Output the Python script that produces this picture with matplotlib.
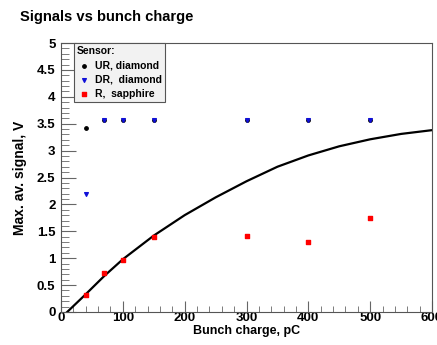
import numpy as np
import matplotlib.pyplot as plt
from matplotlib.ticker import MultipleLocator

plt.rcParams['font.family'] = ['Liberation Sans', 'DejaVu Sans']
plt.rcParams['font.weight'] = 'bold'

# measured points
ur_x = [40, 70, 100, 150, 300, 400, 500]
ur_y = [3.42, 3.57, 3.57, 3.57, 3.57, 3.57, 3.57]
dr_x = [40, 70, 100, 150, 300, 400, 500]
dr_y = [2.2, 3.57, 3.57, 3.57, 3.57, 3.57, 3.57]
r_x = [40, 70, 100, 150, 300, 400, 500]
r_y = [0.32, 0.72, 0.97, 1.4, 1.41, 1.31, 1.75]

# black model curve
curve_x = [10, 40, 70, 100, 150, 200, 250, 300, 350, 400, 450, 500, 550, 600]
curve_y = [0.0, 0.33, 0.67, 0.98, 1.42, 1.80, 2.13, 2.43, 2.70, 2.91, 3.08, 3.21, 3.31, 3.38]

fig = plt.figure(figsize=(4.37, 3.45), dpi=100)
ax = fig.add_axes([61/437, 1 - 312/345, 371/437, 269/345])

ax.plot(curve_x, curve_y, color='black', lw=1.6, zorder=2)
ax.scatter(ur_x, ur_y, s=6, marker='o', color='black', label='UR, diamond', zorder=3)
ax.scatter(dr_x, dr_y, s=7, marker='v', color='#1010d8', label='DR,  diamond', zorder=4)
ax.scatter(r_x, r_y, s=6, marker='s', color='#ff0000', label='R,  sapphire', zorder=5)

ax.set_xlim(0, 600)
ax.set_ylim(0, 5)
ax.xaxis.set_major_locator(MultipleLocator(100))
ax.xaxis.set_minor_locator(MultipleLocator(20))
ax.yaxis.set_major_locator(MultipleLocator(0.5))
ax.yaxis.set_minor_locator(MultipleLocator(0.1))
ax.yaxis.set_major_formatter(plt.FuncFormatter(lambda v, p: f'{v:g}'))
ax.tick_params(which='both', direction='in', top=False, right=False,
               color='#666666', labelsize=9.5)
ax.tick_params(axis='x', which='major', length=8, pad=0)
ax.tick_params(axis='x', which='minor', length=4)
ax.tick_params(axis='y', which='major', length=11, pad=4)
ax.tick_params(axis='y', which='minor', length=6)
for sp in ax.spines.values():
    sp.set_color('#555555')

ax.set_xlabel('Bunch charge, pC', fontsize=9, fontweight='bold', labelpad=1)
ax.set_ylabel('Max. av. signal, V', fontsize=10, fontweight='bold', labelpad=7)
fig.text(20/437, 1 - 17/345, 'Signals vs bunch charge', fontsize=10.6,
         fontweight='bold', va='center', ha='left')

leg = ax.legend(loc='upper left', title='Sensor:', fontsize=7.5, title_fontsize=7.5,
                frameon=True, fancybox=False, edgecolor='#555555',
                facecolor='#f2f2f2', framealpha=1, borderaxespad=0,
                borderpad=0.3, handletextpad=0.4, handlelength=1.3,
                labelspacing=0.4, bbox_to_anchor=(0.035, 1.0))
leg._legend_box.align = 'left'
leg.get_frame().set_linewidth(0.8)

plt.savefig('out.png', dpi=100)
